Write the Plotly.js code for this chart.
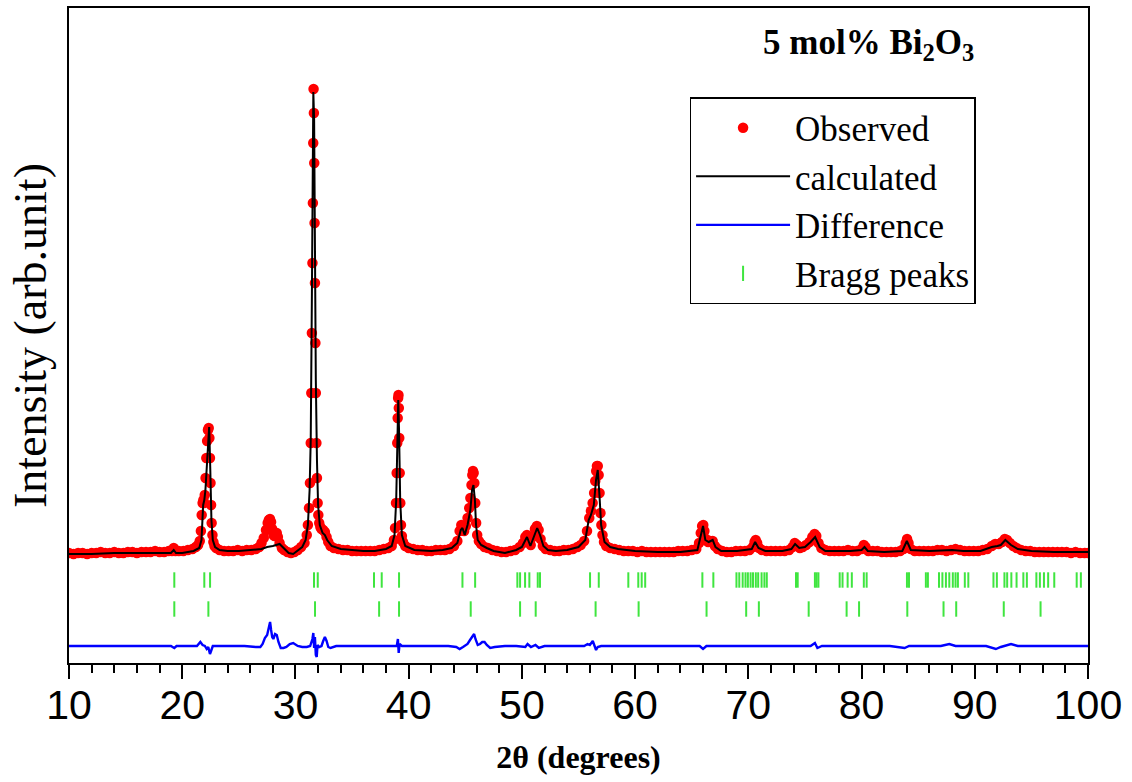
<!DOCTYPE html>
<html>
<head>
<meta charset="utf-8">
<script src="https://cdn.plot.ly/plotly-3.0.1.min.js"></script>
<style>
  html, body { margin: 0; padding: 0; background: #ffffff; }
  #chart { width: 1132px; height: 782px; }
</style>
</head>
<body>
<div id="chart"></div>
<script>
// ---- Observed intensity (arb. units) ----
const obsX = [10.0,10.4,10.8,11.2,11.6,12.0,12.4,12.8,13.2,13.6,14.0,14.4,14.8,15.2,15.6,16.0,16.4,16.8,17.2,17.6,18.0,18.4,18.8,19.1,19.25,19.4,19.7,20.1,20.5,20.9,21.2,21.4,
  21.55,21.65,21.72,21.8,21.87,21.93,21.99,22.06,22.13,22.2,22.27,22.34,22.4,22.45,22.5,22.55,22.6,22.67,22.75,22.85,23.0,23.3,23.7,
  24.1,24.5,24.9,25.3,25.7,26.1,26.5,26.8,27.0,27.2,27.4,27.55,27.65,27.75,27.85,27.95,28.05,28.15,28.25,28.35,28.45,28.6,28.8,29.0,29.3,29.6,29.9,30.2,30.5,30.8,31.0,31.1,31.2,31.28,31.35,31.4,31.45,31.5,31.54,31.57,31.6,31.63,31.66,31.69,31.72,31.76,31.8,31.85,31.9,31.96,32.02,32.1,32.2,32.3,32.45,32.6,32.75,32.9,33.1,33.4,33.8,
  34.2,34.6,35.0,35.4,35.8,36.2,36.6,37.0,37.4,37.8,38.2,38.5,38.7,38.8,38.88,38.94,38.99,39.03,39.07,39.1,39.13,39.17,39.21,39.26,39.32,39.4,39.5,39.7,40.0,40.4,40.8,41.2,41.6,42.0,42.4,42.8,43.2,43.6,
  44.0,44.3,44.5,44.65,44.78,44.9,45.05,45.2,45.35,45.45,45.55,45.62,45.68,45.74,45.8,45.88,45.96,46.05,46.2,46.4,46.7,47.0,47.4,47.8,48.2,48.6,49.0,49.4,49.8,50.1,50.3,50.45,50.6,50.78,50.95,51.15,51.32,51.48,51.65,51.85,52.1,52.5,52.9,53.3,53.7,
  54.1,54.5,54.9,55.2,55.5,55.75,55.95,56.1,56.25,56.38,56.48,56.56,56.63,56.7,56.78,56.86,56.94,57.02,57.12,57.25,57.45,57.8,58.2,58.6,59.0,59.4,59.8,60.2,60.6,61.0,61.4,61.8,62.2,62.6,63.0,63.4,63.8,
  64.2,64.6,65.0,65.4,65.65,65.8,65.92,66.02,66.12,66.25,66.45,66.65,66.85,67.05,67.3,67.7,68.1,68.5,68.9,69.3,69.7,70.1,70.4,70.55,70.65,70.78,70.95,71.2,71.6,72.0,72.4,72.8,73.2,73.6,73.9,
  74.1,74.3,74.55,74.8,75.1,75.4,75.65,75.85,76.0,76.2,76.45,76.8,77.2,77.6,78.0,78.4,78.8,79.2,79.6,80.0,80.2,80.35,80.6,81.0,81.4,81.8,82.2,82.6,83.0,83.4,83.7,83.9,84.02,84.15,84.35,84.7,
  85.1,85.5,85.9,86.3,86.7,87.1,87.5,87.9,88.3,88.7,89.1,89.5,89.9,90.3,90.7,91.1,91.5,91.8,92.1,92.4,92.65,92.85,93.1,93.4,93.7,94.1,94.5,94.9,95.3,95.7,96.1,96.5,96.9,97.3,97.7,98.1,98.5,98.9,99.3,99.7,100.0];
const obsY = [110,109,110,110,109,110,110,111,110,110,111,110,110,111,111,110,111,111,111,112,111,111,112,112,115,112,112,112,113,114,116,118,
  122,132,148,160,163,160,168,185,205,222,233,235,225,205,180,158,140,128,121,117,115,113,112,
  112,112,113,112,113,113,114,116,120,125,133,140,143,144,141,134,128,127,130,130,126,120,115,113,111,110,111,113,116,120,128,138,155,180,220,270,330,400,460,520,574,550,500,440,380,320,270,220,185,160,148,140,136,134,133,131,126,121,117,115,114,
  113,113,112,112,112,112,112,112,113,114,115,117,123,135,160,190,220,245,265,268,255,225,190,160,138,127,121,117,115,114,113,113,112,112,113,113,113,114,
  117,122,132,138,134,132,137,145,155,165,178,188,192,190,180,160,140,128,122,119,116,115,113,112,111,111,112,113,116,120,126,128,124,118,126,134,137,133,124,117,114,113,112,112,113,
  113,114,116,118,122,132,145,152,160,170,182,192,197,197,188,170,150,138,128,121,117,115,114,113,112,112,112,111,112,111,111,111,111,111,111,111,112,
  112,112,113,114,120,130,137,138,132,124,121,122,122,117,114,112,111,111,112,112,112,113,116,121,123,120,115,113,112,112,112,112,112,113,116,
  120,118,115,116,118,121,126,129,127,120,115,113,112,112,112,112,113,112,112,114,118,116,112,112,112,111,111,111,111,112,114,120,124,120,114,112,
  112,112,112,112,113,113,112,113,114,113,112,112,112,112,113,114,117,119,119,121,124,123,120,117,115,113,112,112,111,111,111,111,111,111,111,111,110,111,110,110,110];

// ---- Calculated profile ----
const calcX = [10,12,14,16,18,19.0,19.25,19.45,20,21.0,21.5,21.7,21.85,21.95,22.05,22.2,22.3,22.38,22.48,22.58,22.7,22.9,23.3,24,25,26,27,27.5,28,28.6,29.0,29.4,29.8,30.2,30.6,30.9,31.1,31.25,31.35,31.45,31.52,31.58,31.65,31.72,31.8,31.9,32.0,32.15,32.4,32.6,32.8,33.2,34,35,36,37,37.4,38,38.5,38.75,38.9,39.0,39.08,39.15,39.25,39.4,39.7,40.5,42,43,43.8,44.3,44.6,44.75,44.95,45.2,45.45,45.6,45.72,45.85,45.95,46.1,46.4,46.9,47.5,48.5,49.5,50.0,50.3,50.45,50.75,51.1,51.35,51.6,51.9,52.3,53,54,55,55.6,55.9,56.1,56.35,56.55,56.7,56.85,57.0,57.3,57.8,58.5,60,62,64,65.5,65.8,66.0,66.2,66.5,66.85,67.1,67.6,69,70.3,70.6,70.9,71.5,73,73.8,74.13,74.5,75.0,75.5,75.9,76.3,76.8,78,79,80.0,80.26,80.55,82,83.6,84.0,84.35,86,88,89,90.5,91.5,92.0,92.3,92.7,93.2,93.8,95,97,100];
const calcY = [109,109,110,110,110,110,113,110,110,112,115,123,158,163,173,203,233,236,193,143,123,116,113,112,112,113,114,116,117,119,114,110,109,113,116,123,138,173,223,363,503,571,543,413,283,203,158,138,130,128,123,117,114,113,112,112,113,114,117,128,163,223,263,233,163,128,117,113,112,113,115,120,133,135,128,138,153,173,178,163,138,123,118,115,112,110,113,116,123,126,117,128,135,128,117,113,112,113,116,123,143,148,158,183,193,168,138,121,116,114,112,111,111,113,128,137,123,121,123,116,112,112,114,121,115,112,112,114,119,115,116,121,126,116,112,112,112,113,116,112,111,112,122,113,112,113,112,112,116,117,118,123,118,114,112,111,111];

// ---- Difference (obs - calc), offset ----
const diffX = [10,11,12,13,14,15,16,17,18,19.0,19.3,19.5,20.5,21.3,21.6,21.8,22.0,22.16,22.3,22.45,22.55,22.7,23.5,24.5,25.5,26.5,26.9,27.1,27.3,27.5,27.65,27.76,27.85,27.95,28.05,28.2,28.35,28.5,28.7,28.95,29.2,29.5,29.8,30.2,30.6,31.0,31.3,31.5,31.58,31.65,31.72,31.8,31.88,31.95,32.1,32.3,32.45,32.6,32.75,32.9,33.1,33.6,34.5,35.5,36.5,37.5,38.5,38.95,39.05,39.12,39.2,39.4,40.5,41.5,42.5,43.5,44.2,44.5,44.8,45.2,45.42,45.6,45.78,45.9,46.1,46.3,46.5,46.7,46.9,47.2,47.6,48.5,49.5,50.3,50.5,50.8,51.2,51.5,52,53,54,55,55.5,55.8,56.0,56.26,56.4,56.55,56.7,57.0,58,59,60,61,62,63,64,65,65.7,66.0,66.3,67,68,69,70,71,72,73,74,75.5,75.88,76.1,76.5,77.5,78.5,79.5,80.5,81.5,82.5,83.8,84.2,85,86,87,87.75,88.3,89,90,91,91.86,92.3,93.2,93.8,95,96,97,98,99,100];
const diffY = [17,17,17,17,17,17,17,17,17,17,15,17,17,17,21,18,17,14,16,9,12,17,17,17,17,16,16,19,25,28,35,41,33,26,24,29,28,21,15,15,16,19,20,17,16,16,17,24,30,15,26,8,6,18,16,17,22,26,22,16,15,17,17,17,17,17,17,17,24,10,19,17,17,17,17,17,16,14,16,19,23,26,29,24,18,19,21,21,18,15,16,17,17,16,19,16,18,15,17,17,17,17,17,19,18,22,18,13,16,17,17,17,17,17,17,17,17,17,17,14,17,17,17,17,17,17,17,17,17,17,20,15,17,17,17,17,17,17,17,15,17,17,17,17,19,17,17,17,17,14,16,19,17,17,17,17,17,17,17];

// ---- Bragg reflection positions ----
const bragg1X = [19.30,21.95,22.46,31.64,31.97,36.94,37.62,39.15,44.75,45.87,49.60,49.84,50.28,50.66,51.40,51.60,56.02,56.79,59.40,60.28,60.58,60.89,65.94,66.91,68.95,69.2,69.5,69.75,69.96,70.2,70.41,70.66,70.87,71.17,71.42,71.63,74.21,74.36,75.88,76.03,76.19,78.07,78.32,78.77,79.14,80.2,80.45,84.01,84.19,85.68,85.86,86.84,87.14,87.45,87.75,88.06,88.3,88.51,89.12,89.43,91.65,91.95,92.62,92.86,93.23,93.69,94.29,94.6,95.44,95.75,96.11,96.48,97.02,99.0,99.37];
const bragg2X = [19.30,22.31,31.73,37.39,39.15,45.48,49.84,51.22,56.51,60.31,66.31,69.81,70.93,75.33,78.68,79.78,84.04,87.24,88.36,92.56,95.81];
const bragg1Level = 83;
const bragg2Level = 54;

const serif = 'Liberation Serif, Times New Roman, serif';
const green = '#3fe53f';

const traces = [
  { x: obsX, y: obsY, type: 'scatter', mode: 'markers', name: 'Observed', legendgroup: 'a',
    marker: { color: '#ff0000', size: 10.5, line: { width: 0 } } },
  { x: calcX, y: calcY, type: 'scatter', mode: 'lines', name: 'calculated', legendgroup: 'b',
    line: { color: '#000000', width: 2 } },
  { x: diffX, y: diffY, type: 'scatter', mode: 'lines', name: 'Difference', legendgroup: 'c',
    line: { color: '#0000ff', width: 2.4 } },
  { x: bragg1X, y: bragg1X.map(() => bragg1Level), type: 'scatter', mode: 'markers', name: 'Bragg peaks', legendgroup: 'd',
    marker: { symbol: 'line-ns-open', size: 11, color: green, line: { color: green, width: 2 } } },
  { x: bragg2X, y: bragg2X.map(() => bragg2Level), type: 'scatter', mode: 'markers', name: 'Bragg peaks 2', legendgroup: 'd', showlegend: false,
    marker: { symbol: 'line-ns-open', size: 11, color: green, line: { color: green, width: 2 } } }
];

const layout = {
  width: 1132, height: 782,
  margin: { l: 69, r: 44, t: 8, b: 119 },
  paper_bgcolor: '#ffffff', plot_bgcolor: '#ffffff',
  showlegend: true,
  legend: {
    x: 0.609, y: 0.864, xanchor: 'left', yanchor: 'top',
    bgcolor: '#ffffff', bordercolor: '#000000', borderwidth: 1.5,
    font: { family: serif, size: 35, color: '#000000' },
    traceorder: 'grouped', tracegroupgap: 0, itemwidth: 94
  },
  xaxis: {
    range: [10, 100], tickmode: 'linear', tick0: 10, dtick: 10,
    ticks: 'outside', ticklen: 14, tickwidth: 2, tickcolor: '#000000',
    minor: { tickmode: 'linear', tick0: 10, dtick: 2, ticks: 'outside', ticklen: 8, tickwidth: 2, tickcolor: '#000000' },
    showline: true, linecolor: '#000000', linewidth: 2, mirror: true,
    showgrid: false, zeroline: false,
    tickfont: { family: 'Liberation Sans, Arial, sans-serif', size: 41, color: '#000000' },
    ticklabelstandoff: -9,
    title: { text: '<b>2θ (degrees)</b>', font: { family: serif, size: 32, color: '#000000' }, standoff: 18 }
  },
  yaxis: {
    range: [0, 655], showticklabels: false, ticks: '',
    showline: true, linecolor: '#000000', linewidth: 2, mirror: true,
    showgrid: false, zeroline: false,
    title: { text: 'Intensity (arb.unit)', font: { family: serif, size: 46, color: '#000000' }, standoff: 6 }
  },
  annotations: [
    { xref: 'paper', yref: 'paper', x: 0.785, y: 0.945, xanchor: 'center', yanchor: 'middle', showarrow: false,
      text: '<b>5 mol% Bi<sub>2</sub>O<sub>3</sub></b>', font: { family: serif, size: 35, color: '#000000' } }
  ]
};

Plotly.newPlot('chart', traces, layout, { displayModeBar: false, staticPlot: true });
</script>
</body>
</html>
